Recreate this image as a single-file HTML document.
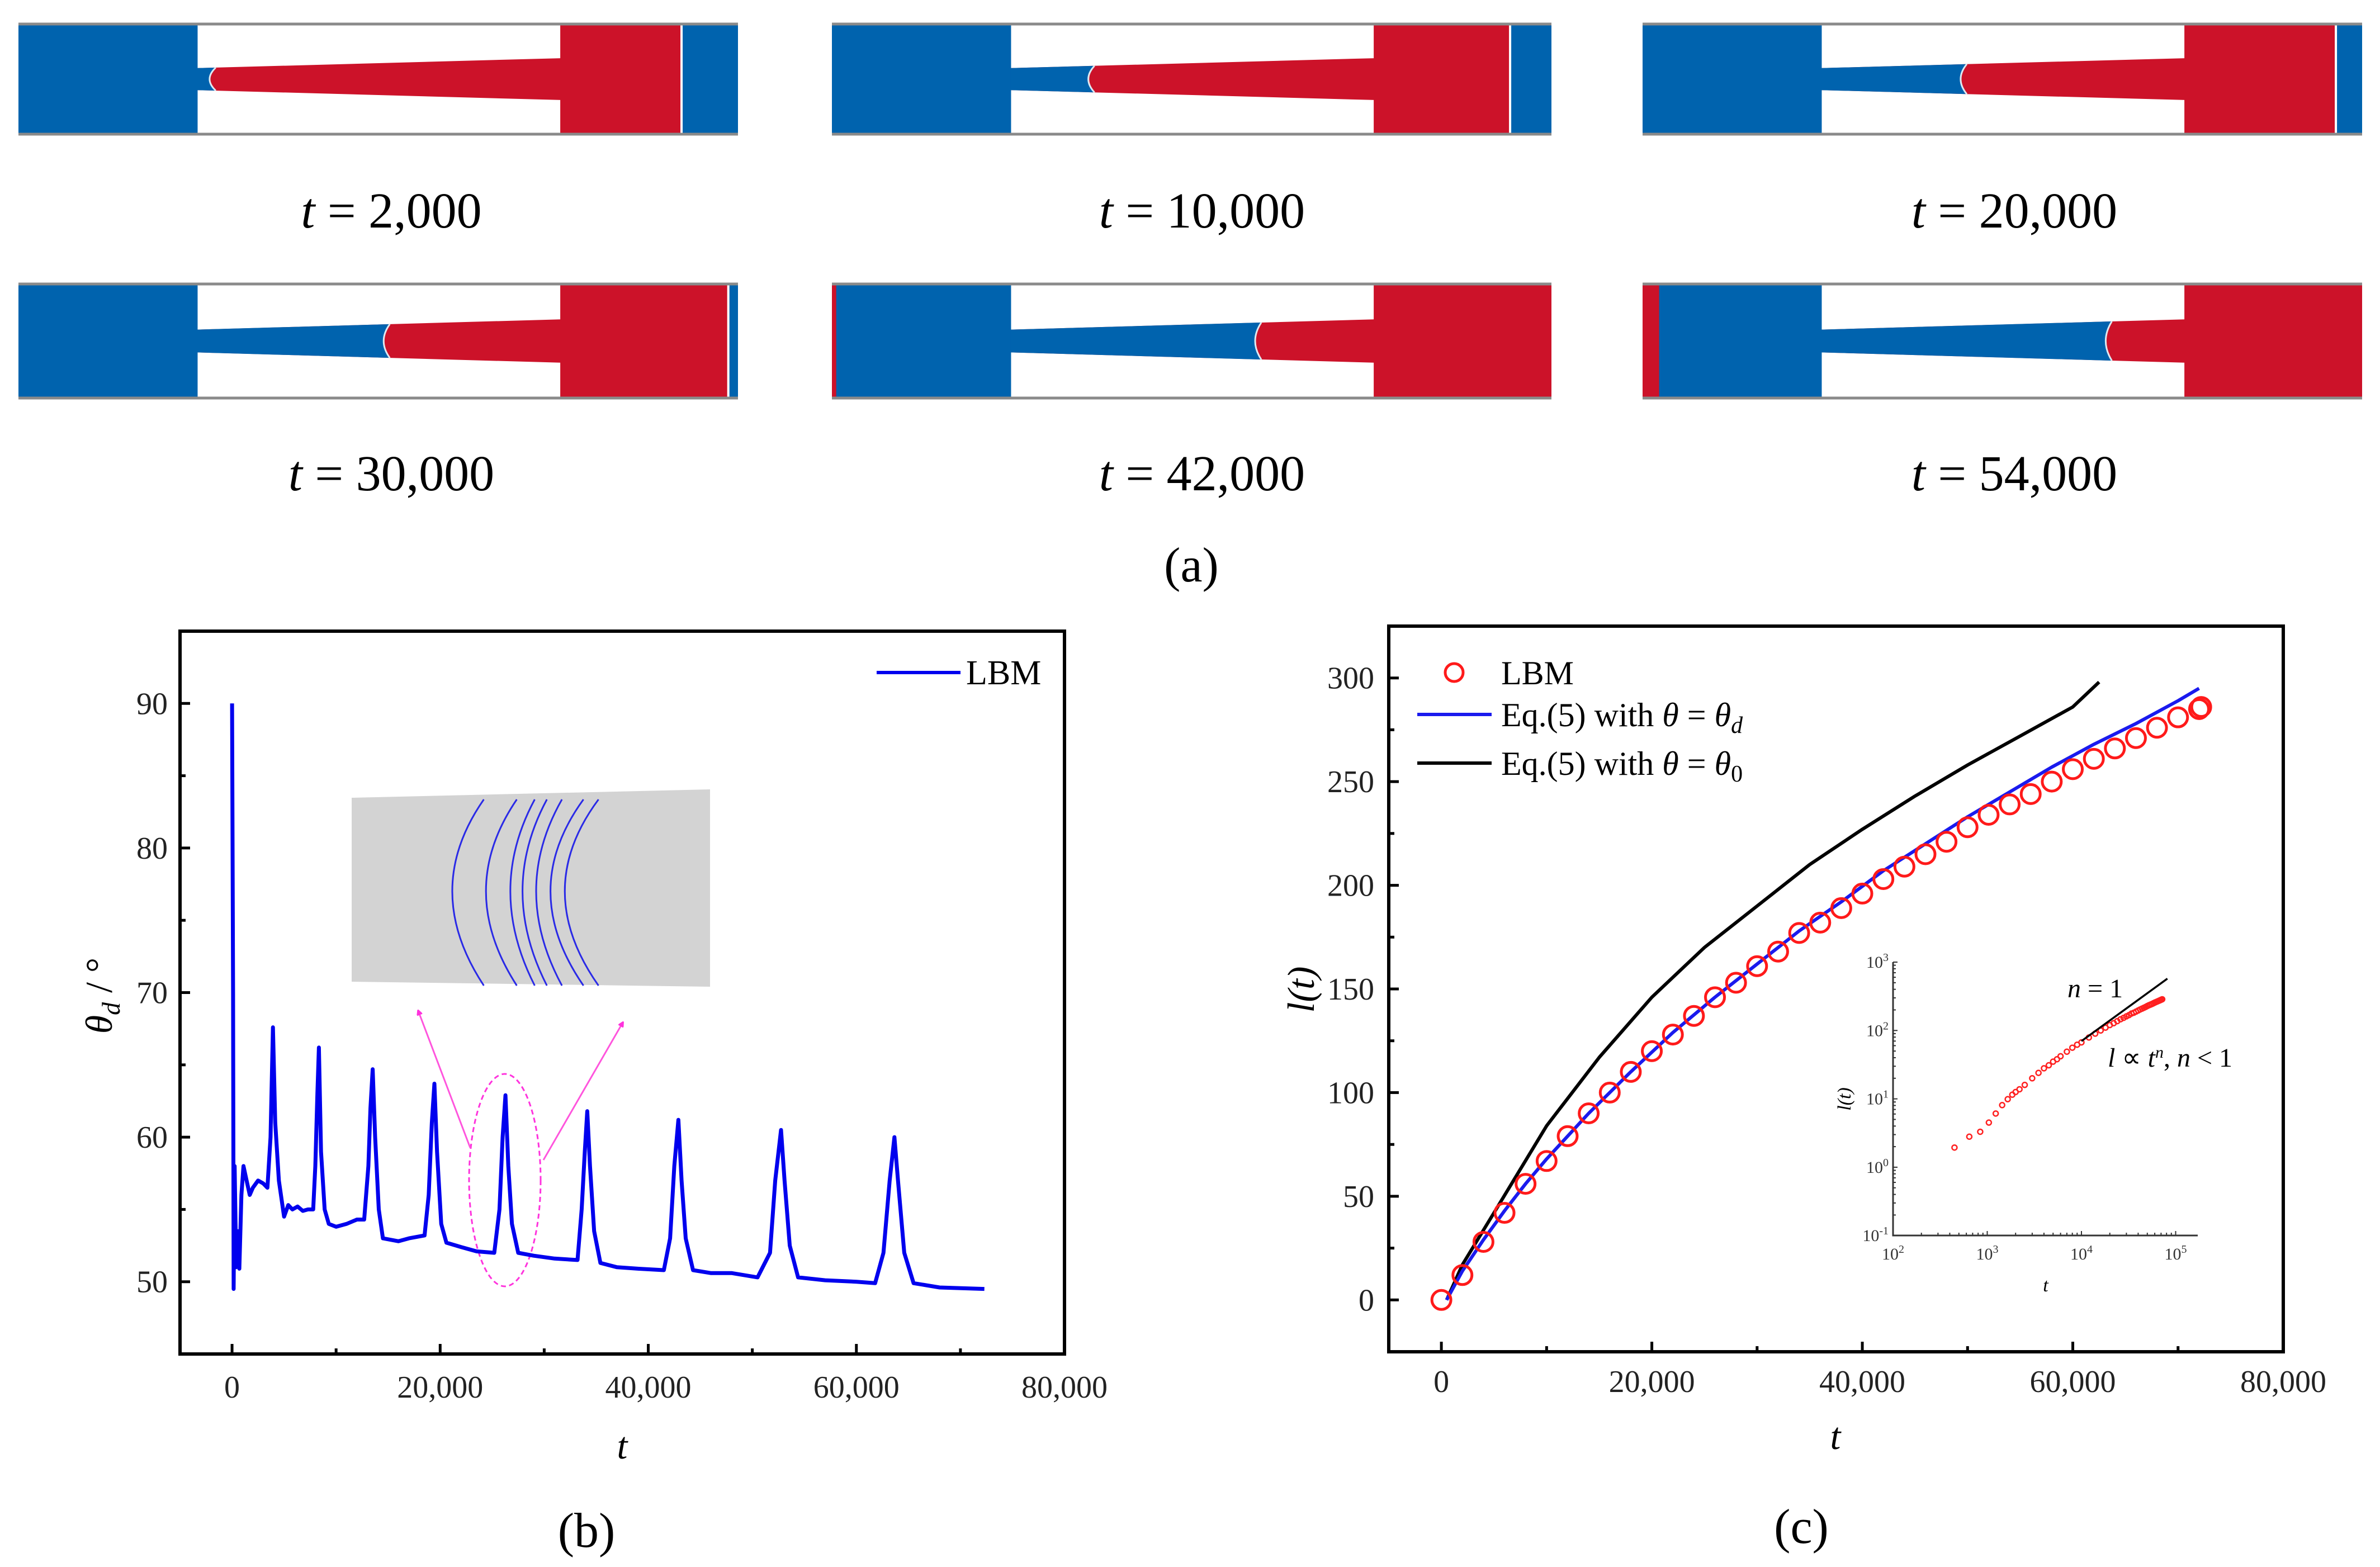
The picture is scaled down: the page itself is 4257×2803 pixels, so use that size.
<!DOCTYPE html>
<html><head><meta charset="utf-8">
<style>
html,body{margin:0;padding:0;background:#fff;}
svg{display:block;font-family:"Liberation Serif",serif;}
</style></head>
<body>
<svg id="fig" width="4257" height="2803" viewBox="0 0 4257 2803" xmlns="http://www.w3.org/2000/svg">
<rect x="0" y="0" width="4257" height="2803" fill="#fff"/>
<g id="pa"></g>
<g id="pb"></g>
<g id="pc"></g>
</svg>
<script>
// ---------- Panel (a) data ----------
const aTimes = ["2,000","10,000","20,000","30,000","42,000","54,000"];
const aInterface = [0.05,0.23,0.40,0.53,0.69,0.80];
const aRedEnd = [0.92,0.941,0.962,0.985,1.0,1.0];
const aLeftStrip = [0,0,0,0,0.006,0.023];

// ---------- Panel (b) data ----------
const bT = [0,100,150,250,400,550,700,900,1100,1400,1700,2000,2500,3000,3400,3700,3930,4150,4500,5000,5400,5800,6300,6800,7300,7800,8000,8200,8345,8550,8900,9300,10000,11000,12000,12700,13100,13300,13517,13750,14100,14500,16000,17000,18500,18900,19200,19448,19700,20100,20600,22000,23500,25200,25700,26000,26276,26550,26900,27500,29000,31000,33200,33600,33900,34138,34400,34800,35400,37000,39000,41500,42100,42500,42896,43200,43600,44300,46000,48000,50500,51700,52200,52759,53100,53600,54400,57000,60000,61800,62600,63200,63655,64000,64600,65500,68000,72300];
const bTheta = [90,70,49.5,58,51,53.5,50.9,56,58,57,56,56.5,57,56.8,56.5,60,67.6,61,57,54.5,55.3,55,55.2,54.9,55,55,58,63,66.2,59,55,54,53.8,54,54.3,54.3,58,62,64.7,60,55,53,52.8,53,53.2,56,61,63.7,59,54,52.7,52.4,52.1,52,55,60,62.9,58,54,52,51.8,51.6,51.5,55,59,61.8,58,53.5,51.3,51,50.9,50.8,53,58,61.2,57,53,50.8,50.6,50.6,50.3,52,57,60.5,57,52.5,50.3,50.1,50,49.9,52,57,60,57,52,49.9,49.6,49.5];
const bXTicks = [0,20000,40000,60000,80000];
const bXTickLabels = ["0","20,000","40,000","60,000","80,000"];
const bYTicks = [50,60,70,80,90];
const bYTickLabels = ["50","60","70","80","90"];

// ---------- Panel (c) data ----------
const cLbmT = [0,2000,4000,6000,8000,10000,12000,14000,16000,18000,20000,22000,24000,26000,28000,30000,32000,34000,36000,38000,40000,42000,44000,46000,48000,50000,52000,54000,56000,58000,60000,62000,64000,66000,68000,70000,72000,72200];
const cLbmL = [0,12,28,42,56,67,79,90,100,110,120,128,137,146,153,161,168,177,182,189,196,203,209,215,221,228,234,239,244,250,256,261,266,271,276,281,285,286];
const cBlueT = [500,2000,4000,6000,8000,10000,14000,18000,22000,26000,30000,34000,38000,42000,46000,50000,54000,58000,62000,66000,70000,72000];
const cBlueL = [0,14,29,43,56,68,90,110,129,146,162,178,192,207,220,233,245,257,268,278,289,295];
const cBlackT = [500,2000,5000,10000,15000,20000,25000,30000,35000,40000,45000,50000,55000,60000,62500];
const cBlackL = [0,17,42,84,117,146,170,190,210,227,243,258,272,286,298];
const cXTicks = [0,20000,40000,60000,80000];
const cXTickLabels = ["0","20,000","40,000","60,000","80,000"];
const cYTicks = [0,50,100,150,200,250,300];
const cYTickLabels = ["0","50","100","150","200","250","300"];
// inset (log-log)
const insT = [449,645,842,1040,1230,1440,1650,1845,2000,2200,2500,3000,3500,4000,4500,5000,5500,6000,7000,8000,9000,10000,12000,14000,16000,18000,20000,22000,24000,26000,28000,30000,32000,34000,36000,38000,40000,42000,44000,46000,48000,50000,52000,54000,56000,58000,60000,62000,64000,66000,68000,70000,72000];
const insL = [1.94,2.8,3.3,4.5,6.1,8.1,9.9,11.5,12.6,13.8,16,20,24,28,31,35,38,42,49,56,62,67,79,90,100,110,120,128,137,146,153,161,168,177,182,189,196,203,209,215,221,228,234,239,244,250,256,261,266,271,276,281,286];
const insLineT = [10000,81700];
const insLineL = [70,573];

const NS = "http://www.w3.org/2000/svg";
function mk(parent, tag, attrs, text){
  const e = document.createElementNS(NS, tag);
  for (const k in attrs) e.setAttribute(k, attrs[k]);
  if (text !== undefined) e.textContent = text;
  parent.appendChild(e);
  return e;
}

// ================= Panel (a) =================
const pa = document.getElementById('pa');
const aCols = [33,1488,2938];
const aRows = [[43,197],[508,204]];
const aLabelX = [700,2150,3603];
const aLabelY = [407,877];
const BLUE = "#0063ae", RED = "#cc1229";
for (let i=0;i<6;i++){
  const col = i%3, row = Math.floor(i/3);
  const x = aCols[col], y = aRows[row][0], H = aRows[row][1], W = 1287;
  const g = mk(pa,'g',{});
  
  
  const lb = mk(g,'rect',{x:x,y:y,width:0.249*W,height:H,fill:BLUE});
  
  
  const x0 = x+0.249*W, x1 = x+0.753*W;
  const t0 = y+0.40*H, b0 = y+0.60*H, t1 = y+0.31*H, b1 = y+0.69*H;
  const tr = mk(g,'polygon',{points:`${x0},${t0} ${x1+1},${t1} ${x1+1},${b1} ${x0},${b0}`,fill:RED});
  
  
  const f = aInterface[i];
  const xi = x0 + f*(x1-x0), ti = t0+f*(t1-t0), bi = b0+f*(b1-b0), mid=(ti+bi)/2;
  const bl = mk(g,'path',{d:`M${x0-1},${t0} L${xi},${ti} Q${xi-22},${mid} ${xi},${bi} L${x0-1},${b0} Z`,fill:BLUE});
  
  
  const il = mk(g,'path',{d:`M${xi},${ti} Q${xi-22},${mid} ${xi},${bi}`,fill:'none',stroke:'#dfe8f0','stroke-width':3});
  
  
  const rEnd = x + aRedEnd[i]*W;
  const rr = mk(g,'rect',{x:x1,y:y,width:rEnd-x1,height:H,fill:RED});
  
  
  if (aRedEnd[i] < 1){
    const rb = mk(g,'rect',{x:rEnd+4,y:y,width:x+W-rEnd-4,height:H,fill:BLUE});
    
    
  }
  if (aLeftStrip[i] > 0){
    const ls = mk(g,'rect',{x:x,y:y,width:aLeftStrip[i]*W,height:H,fill:RED});
    
    
  }
  const bt = mk(g,'line',{x1:x,y1:y,x2:x+W,y2:y,stroke:'#8a8a8a','stroke-width':5});
  
  
  const bb = mk(g,'line',{x1:x,y1:y+H,x2:x+W,y2:y+H,stroke:'#8a8a8a','stroke-width':5});
  
  
  const tx = mk(pa,'text',{x:aLabelX[col],y:aLabelY[row],'text-anchor':'middle','font-size':90});
  
  
  mk(tx,'tspan',{'font-style':'italic'},'t');
  mk(tx,'tspan',{},' =  '+aTimes[i]);
}
const aCap = mk(pa,'text',{x:2131,y:1040,'text-anchor':'middle','font-size':88},'(a)');



// ================= Panel (b) =================
const pb = document.getElementById('pb');
const bL=322,bR=1904,bTop=1129,bBot=2422;
function xb(t){return bL+(t+5000)/85000*(bR-bL);}
function yb(v){return bTop+(95-v)/50*(bBot-bTop);}
const ins = mk(pb,'polygon',{points:'629,1427 1270,1412 1270,1765 629,1756',fill:'#d3d3d3'});


const arcTop=[597,643,668,685,706,736,757], arcMid=[553,600,634,651,670,690,710];
for (let k=0;k<arcTop.length;k++){
  const xt=100+arcTop[k]/0.78, xm=100+arcMid[k]/0.78;
  const a = mk(pb,'path',{d:`M${xt},${1430} Q${2*xm-xt},${1592} ${xt},${1763}`,fill:'none',stroke:'#2a2ae6','stroke-width':3});
  
  
}
const el = mk(pb,'ellipse',{cx:903,cy:2111,rx:64,ry:190,fill:'none',stroke:'#ff33dd','stroke-width':3,'stroke-dasharray':'9,6'});


const defs = mk(document.getElementById('fig'),'defs',{});
const mkr = mk(defs,'marker',{id:'ah',markerWidth:10,markerHeight:10,refX:8,refY:5,orient:'auto',markerUnits:'userSpaceOnUse'});
mk(mkr,'path',{d:'M0,0 L10,5 L0,10 Z',fill:'#ff33dd',transform:'scale(2.2) translate(-4.5,-2.7)'});
const ar1 = mk(pb,'line',{x1:841,y1:2053,x2:748,y2:1808,stroke:'#ff55dd','stroke-width':3,'marker-end':'url(#ah)'});


const ar2 = mk(pb,'line',{x1:972,y1:2075,x2:1114,y2:1829,stroke:'#ff55dd','stroke-width':3,'marker-end':'url(#ah)'});


let d = bT.map((t,i)=>(i?'L':'M')+xb(t).toFixed(1)+','+yb(bTheta[i]).toFixed(1)).join(' ');
const bl = mk(pb,'path',{d:d,fill:'none',stroke:'#0000ee','stroke-width':7,'stroke-linejoin':'round'});


const bBox = mk(pb,'rect',{x:bL,y:bTop,width:bR-bL,height:bBot-bTop,fill:'none',stroke:'#000','stroke-width':6});


for (let v=0;v<=80000;v+=10000){
  const major = v%20000===0;
  const tk = mk(pb,'line',{x1:xb(v),y1:bBot,x2:xb(v),y2:bBot-(major?18:10),stroke:'#000','stroke-width':5});
  
  
}
bXTicks.forEach((v,i)=>{
  const tl = mk(pb,'text',{x:xb(v),y:2500,'text-anchor':'middle','font-size':56,fill:'#222'},bXTickLabels[i]);
  
  
});
for (let v=45;v<=95;v+=5){
  const major = v%10===0;
  const tk = mk(pb,'line',{x1:bL,y1:yb(v),x2:bL+(major?18:10),y2:yb(v),stroke:'#000','stroke-width':5});
  
  
}
bYTicks.forEach((v,i)=>{
  const tl = mk(pb,'text',{x:300,y:yb(v)+19,'text-anchor':'end','font-size':56,fill:'#222'},bYTickLabels[i]);
  
  
});
const bxl = mk(pb,'text',{x:1113,y:2609,'text-anchor':'middle','font-size':68,'font-style':'italic'},'t');


const byl = mk(pb,'text',{x:0,y:0,'text-anchor':'middle','font-size':68,transform:'translate(200,1781) rotate(-90)'});


mk(byl,'tspan',{'font-style':'italic'},'θ');
mk(byl,'tspan',{'font-style':'italic','font-size':46,dy:14},'d');
mk(byl,'tspan',{dy:-14},' / °');
const blg = mk(pb,'line',{x1:1568,y1:1203,x2:1718,y2:1203,stroke:'#0000ee','stroke-width':6});


const blt = mk(pb,'text',{x:1728,y:1224,'font-size':62},'LBM');


const bCap = mk(pb,'text',{x:1049,y:2767,'text-anchor':'middle','font-size':88},'(b)');



// ================= Panel (c) =================
const pc = document.getElementById('pc');
const cL=2484,cR=4084,cTop=1120,cBot=2418;
function xc(t){return cL+(t+5000)/85000*(cR-cL);}
function yc(v){return cTop+(325-v)/350*(cBot-cTop);}
d = cBlackT.map((t,i)=>(i?'L':'M')+xc(t).toFixed(1)+','+yc(cBlackL[i]).toFixed(1)).join(' ');
const blk = mk(pc,'path',{d:d,fill:'none',stroke:'#000','stroke-width':6,'stroke-linejoin':'round'});


d = cBlueT.map((t,i)=>(i?'L':'M')+xc(t).toFixed(1)+','+yc(cBlueL[i]).toFixed(1)).join(' ');
const blu = mk(pc,'path',{d:d,fill:'none',stroke:'#1a1aee','stroke-width':6,'stroke-linejoin':'round'});


cLbmT.forEach((t,i)=>{
  const c = mk(pc,'circle',{cx:xc(t),cy:yc(cLbmL[i]),r:17,fill:'none',stroke:'#ff1a1a','stroke-width':5});
  
  
});
const cBox = mk(pc,'rect',{x:cL,y:cTop,width:cR-cL,height:cBot-cTop,fill:'none',stroke:'#000','stroke-width':6});


for (let v=0;v<=80000;v+=10000){
  const major = v%20000===0;
  const tk = mk(pc,'line',{x1:xc(v),y1:cBot,x2:xc(v),y2:cBot-(major?18:10),stroke:'#000','stroke-width':5});
  
  
}
cXTicks.forEach((v,i)=>{
  const tl = mk(pc,'text',{x:xc(v),y:2490,'text-anchor':'middle','font-size':56,fill:'#222'},cXTickLabels[i]);
  
  
});
for (let v=-25;v<=325;v+=25){
  const major = v%50===0;
  const tk = mk(pc,'line',{x1:cL,y1:yc(v),x2:cL+(major?18:10),y2:yc(v),stroke:'#000','stroke-width':5});
  
  
}
cYTicks.forEach((v,i)=>{
  const tl = mk(pc,'text',{x:2458,y:yc(v)+19,'text-anchor':'end','font-size':56,fill:'#222'},cYTickLabels[i]);
  
  
});
const cxl = mk(pc,'text',{x:3283,y:2592,'text-anchor':'middle','font-size':68,'font-style':'italic'},'t');


const cyl = mk(pc,'text',{x:0,y:0,'text-anchor':'middle','font-size':68,'font-style':'italic',transform:'translate(2350,1770) rotate(-90)'},'l(t)');


const lc = mk(pc,'circle',{cx:2601,cy:1203,r:16,fill:'none',stroke:'#ff1a1a','stroke-width':5});


const lt1 = mk(pc,'text',{x:2685,y:1224,'font-size':60},'LBM');


const ll2 = mk(pc,'line',{x1:2535,y1:1278,x2:2668,y2:1278,stroke:'#1a1aee','stroke-width':6});


const lt2 = mk(pc,'text',{x:2685,y:1299,'font-size':60});


mk(lt2,'tspan',{},'Eq.(5) with ');
mk(lt2,'tspan',{'font-style':'italic'},'θ');
mk(lt2,'tspan',{},' = ');
mk(lt2,'tspan',{'font-style':'italic'},'θ');
mk(lt2,'tspan',{'font-style':'italic','font-size':42,dy:12},'d');
const ll3 = mk(pc,'line',{x1:2535,y1:1365,x2:2668,y2:1365,stroke:'#000','stroke-width':6});


const lt3 = mk(pc,'text',{x:2685,y:1386,'font-size':60});


mk(lt3,'tspan',{},'Eq.(5) with ');
mk(lt3,'tspan',{'font-style':'italic'},'θ');
mk(lt3,'tspan',{},' = ');
mk(lt3,'tspan',{'font-style':'italic'},'θ');
mk(lt3,'tspan',{'font-size':42,dy:12},'0');
const cCap = mk(pc,'text',{x:3222,y:2760,'text-anchor':'middle','font-size':88},'(c)');



// ----- inset log-log -----
const iL=3386, iR=3931, iTop=1721, iBot=2210;
function xi(t){return iL+(Math.log10(t)-2)*168.5;}
function yi(l){return iTop+(3-Math.log10(l))*122.3;}
const gi = mk(pc,'g',{});


const iax = mk(gi,'path',{d:`M${iL},${iTop} L${iL},${iBot} L${iR},${iBot}`,fill:'none',stroke:'#333','stroke-width':3});


for (let e=2;e<=5;e++){
  for (let m=1;m<10;m++){
    const t = m*Math.pow(10,e);
    if (xi(t)>iR) break;
    const tk = mk(gi,'line',{x1:xi(t),y1:iBot,x2:xi(t),y2:iBot-(m===1?8:5),stroke:'#333','stroke-width':2});
    
    
  }
  const tl = mk(gi,'text',{x:xi(Math.pow(10,e)),y:2253,'text-anchor':'middle','font-size':30,fill:'#333'});
  
  
  mk(tl,'tspan',{},'10');
  mk(tl,'tspan',{'font-size':20,dy:-12},String(e));
}
for (let e=-1;e<=3;e++){
  for (let m=1;m<10;m++){
    const l = m*Math.pow(10,e);
    if (l>1000) break;
    const tk = mk(gi,'line',{x1:iL,y1:yi(l),x2:iL+(m===1?8:5),y2:yi(l),stroke:'#333','stroke-width':2});
    
    
  }
  const tl = mk(gi,'text',{x:iL-8,y:yi(Math.pow(10,e))+10,'text-anchor':'end','font-size':30,fill:'#333'});
  
  
  mk(tl,'tspan',{},'10');
  mk(tl,'tspan',{'font-size':20,dy:-12},String(e));
}
insT.forEach((t,i)=>{
  const c = mk(gi,'circle',{cx:xi(t),cy:yi(insL[i]),r:4.5,fill:'none',stroke:'#ff2020','stroke-width':2.5});
  
  
});
const nl = mk(gi,'line',{x1:xi(insLineT[0]),y1:yi(insLineL[0]),x2:xi(insLineT[1]),y2:yi(insLineL[1]),stroke:'#000','stroke-width':3.5});


const n1 = mk(gi,'text',{x:3698,y:1784,'font-size':48});


mk(n1,'tspan',{'font-style':'italic'},'n');
mk(n1,'tspan',{},' = 1');
const n2 = mk(gi,'text',{x:3770,y:1908,'font-size':48});


mk(n2,'tspan',{'font-style':'italic'},'l');
mk(n2,'tspan',{},' ∝ ');
mk(n2,'tspan',{'font-style':'italic'},'t');
mk(n2,'tspan',{'font-style':'italic','font-size':30,dy:-16},'n');
mk(n2,'tspan',{dy:16},', ');
mk(n2,'tspan',{'font-style':'italic'},'n');
mk(n2,'tspan',{},' < 1');
const ixl = mk(gi,'text',{x:3659,y:2310,'text-anchor':'middle','font-size':34,'font-style':'italic'},'t');


const iyl = mk(gi,'text',{x:0,y:0,'text-anchor':'middle','font-size':34,'font-style':'italic',transform:'translate(3310,1966) rotate(-90)'},'l(t)');


</script>
</body></html>
